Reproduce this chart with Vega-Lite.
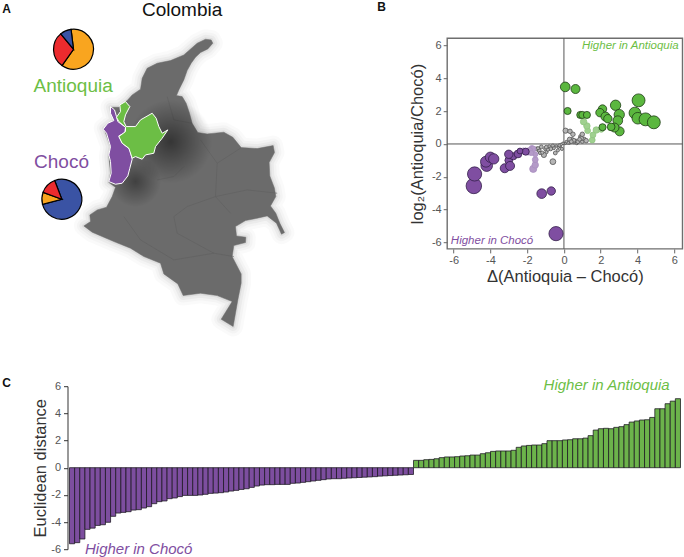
{
"$schema":"https://vega.github.io/schema/vega-lite/v6.json",
"padding":{"left":1.5,"top":0.2,"right":0,"bottom":0},
"background":"white",
"bounds":"flush",
"spacing":348,
"resolve":{"scale":{"color":"independent","fill":"independent","stroke":"independent","size":"independent"}},
"config":{"view":{"stroke":null},"font":"Liberation Sans"},
"datasets":{
"colombia":[{"type":"Feature","properties":{"name":"Colombia"},"geometry":{"type":"Polygon","coordinates":[[[632,120],[637,130],[622,147],[600,158],[585,172],[572,190],[560,212],[550,240],[535,270],[528,287],[545,290],[557,310],[567,340],[575,370],[592,398],[620,402],[670,397],[697,412],[722,443],[770,446],[818,437],[822,458],[806,488],[808,528],[822,565],[826,590],[810,618],[826,640],[838,670],[852,698],[843,703],[828,670],[800,648],[770,655],[735,662],[705,680],[708,708],[736,712],[735,728],[700,737],[695,770],[722,822],[722,850],[712,900],[698,980],[662,958],[695,905],[650,887],[600,880],[548,887],[532,852],[490,822],[480,790],[430,770],[390,745],[340,725],[310,712],[275,697],[250,678],[270,665],[268,645],[290,630],[318,622],[335,590],[345,562],[325,548],[330,520],[325,470],[330,440],[310,385],[340,360],[330,322],[355,322],[380,302],[395,285],[420,268],[425,235],[440,205],[470,190],[510,182],[550,165],[590,130],[615,118],[632,120]]]}}],
"departments":[{"type":"Feature","properties":{"name":"borders"},"geometry":{"type":"MultiLineString","coordinates":[[[650,490],[645,590],[690,640]],[[720,445],[650,490],[600,420]],[[830,580],[740,570],[645,590]],[[520,650],[560,620],[645,590]],[[520,650],[530,700],[640,760],[700,770]],[[370,650],[420,720],[520,780],[640,760]],[[470,540],[520,530],[550,500]],[[500,290],[520,360],[575,370]]]}}],
"provinces":[
{"type":"Feature","properties":{"name":"Chocó"},"geometry":{"type":"Polygon","coordinates":[[[330,320],[342,330],[348,350],[352,365],[375,382],[373,398],[355,408],[365,430],[388,448],[395,478],[388,505],[382,528],[365,550],[345,553],[325,545],[332,520],[330,485],[325,465],[330,440],[318,400],[308,388],[322,370],[340,362],[330,340],[330,320]]]}},
{"type":"Feature","properties":{"name":"Antioquia"},"geometry":{"type":"Polygon","coordinates":[[[375,305],[388,320],[375,345],[370,365],[377,380],[405,380],[420,360],[455,340],[467,355],[475,380],[485,400],[502,390],[485,415],[465,440],[460,460],[435,465],[425,478],[405,470],[395,475],[385,445],[365,430],[355,410],[375,395],[375,382],[355,365],[348,352],[360,335],[358,315],[375,305]]]}}
],
"glow":[{"lon":510,"lat":425,"note":"a"}],
"glow2":[{"lon":405,"lat":545,"note":"b"}],
"labels":[
{"lon":545,"lat":29,"text":"Colombia","kind":"title"},
{"lon":218,"lat":258,"text":"Antioquia","kind":"Antioquia"},
{"lon":183,"lat":487,"text":"Chocó","kind":"Chocó"}
],
"letters":[
{"lon":18,"lat":28,"text":"A"},
{"lon":1143,"lat":22,"text":"B"},
{"lon":18,"lat":1150,"text":"C"}
],
"pies":[
{"region":"Antioquia","lon":219,"lat":148,"ancestry":"European","share":61.7,"rank":1},
{"region":"Antioquia","lon":219,"lat":148,"ancestry":"Native American","share":29.2,"rank":2},
{"region":"Antioquia","lon":219,"lat":148,"ancestry":"African","share":9.1,"rank":3},
{"region":"Chocó","lon":184,"lat":598,"ancestry":"African","share":76.7,"rank":1},
{"region":"Chocó","lon":184,"lat":598,"ancestry":"European","share":9.7,"rank":2},
{"region":"Chocó","lon":184,"lat":598,"ancestry":"Native American","share":13.6,"rank":3}
]
},
"vconcat":[
{"hconcat":[
{"width":340,"height":210.7,
"projection":{"type":"identity","scale":0.3333333,"translate":[-67,-38.3]},
"resolve":{"scale":{"theta":"independent","color":"independent"}},
"layer":[
{"data":{"name":"colombia"},"mark":{"type":"geoshape","clip":false,"fill":null,"stroke":"#000","strokeOpacity":0.018,"strokeWidth":20,"strokeJoin":"round"}},
{"data":{"name":"colombia"},"mark":{"type":"geoshape","clip":false,"fill":null,"stroke":"#000","strokeOpacity":0.025,"strokeWidth":14,"strokeJoin":"round"}},
{"data":{"name":"colombia"},"mark":{"type":"geoshape","clip":false,"fill":null,"stroke":"#000","strokeOpacity":0.035,"strokeWidth":9,"strokeJoin":"round"}},
{"data":{"name":"colombia"},"mark":{"type":"geoshape","clip":false,"fill":null,"stroke":"#000","strokeOpacity":0.05,"strokeWidth":4,"strokeJoin":"round"}},
{"data":{"name":"colombia"},"mark":{"type":"geoshape","clip":false,"fill":"#6b6b6b","stroke":"#6b6b6b","strokeWidth":0.5}},
{"data":{"name":"departments"},"mark":{"type":"geoshape","clip":false,"fill":null,"stroke":"#5f5f5f","strokeWidth":0.6}},
{"data":{"name":"glow"},"mark":{"type":"circle","clip":false,"opacity":1,"size":7000,"fill":{"gradient":"radial","stops":[{"offset":0,"color":"rgba(0,0,0,0.5)"},{"offset":1,"color":"rgba(0,0,0,0)"}]}},"encoding":{"longitude":{"field":"lon","type":"quantitative"},"latitude":{"field":"lat","type":"quantitative"}}},
{"data":{"name":"glow2"},"mark":{"type":"circle","clip":false,"opacity":1,"size":2600,"fill":{"gradient":"radial","stops":[{"offset":0,"color":"rgba(0,0,0,0.4)"},{"offset":1,"color":"rgba(0,0,0,0)"}]}},"encoding":{"longitude":{"field":"lon","type":"quantitative"},"latitude":{"field":"lat","type":"quantitative"}}},
{"data":{"name":"provinces"},"mark":{"type":"geoshape","clip":false,"stroke":"white","strokeWidth":1},"encoding":{"color":{"field":"properties.name","type":"nominal","legend":null,"scale":{"domain":["Antioquia","Chocó"],"range":["#6cbe45","#7f4ea1"]}}}},
{"data":{"name":"pies"},"transform":[{"filter":"datum.region==='Antioquia'"}],"mark":{"type":"arc","clip":false,"outerRadius":20,"stroke":"black","strokeWidth":1.2},"encoding":{"longitude":{"field":"lon","type":"quantitative"},"latitude":{"field":"lat","type":"quantitative"},"theta":{"field":"share","type":"quantitative","scale":{"range":[-0.122,6.161]}},"order":{"field":"rank"},"fill":{"field":"ancestry","type":"nominal","legend":null,"scale":{"domain":["European","Native American","African"],"range":["#f9a51f","#ec2b2e","#3a53a4"]}}}},
{"data":{"name":"pies"},"transform":[{"filter":"datum.region==='Chocó'"}],"mark":{"type":"arc","clip":false,"outerRadius":20,"stroke":"black","strokeWidth":1.2},"encoding":{"longitude":{"field":"lon","type":"quantitative"},"latitude":{"field":"lat","type":"quantitative"},"theta":{"field":"share","type":"quantitative","scale":{"range":[-0.3665,5.9167]}},"order":{"field":"rank"},"fill":{"field":"ancestry","type":"nominal","legend":null,"scale":{"domain":["European","Native American","African"],"range":["#f9a51f","#ec2b2e","#3a53a4"]}}}},
{"data":{"name":"labels"},"mark":{"type":"text","clip":false,"fontSize":19,"align":"center","baseline":"middle"},"encoding":{"longitude":{"field":"lon","type":"quantitative"},"latitude":{"field":"lat","type":"quantitative"},"text":{"field":"text"},"color":{"field":"kind","type":"nominal","legend":null,"scale":{"domain":["title","Antioquia","Chocó"],"range":["#111111","#6cbe45","#7f4ea1"]}}}},
{"data":{"name":"letters"},"mark":{"type":"text","clip":false,"fontSize":12,"fontWeight":"bold","align":"center","baseline":"middle","color":"#111"},"encoding":{"longitude":{"field":"lon","type":"quantitative"},"latitude":{"field":"lat","type":"quantitative"},"text":{"field":"text"}}}
]},
{"width":235.3,"height":210.7,
"data":{"values":[
{"x":-1.0,"y":-0.3,"d":1.5,"g":"ns"},{"x":-0.8,"y":-0.15,"d":1.25,"g":"ns"},{"x":-0.55,"y":-0.25,"d":1.25,"g":"ns"},{"x":-0.3,"y":-0.2,"d":1,"g":"ns"},{"x":-0.2,"y":-0.15,"d":1,"g":"ns"},{"x":-1.35,"y":-0.4,"d":1.5,"g":"ns"},{"x":-1.5,"y":-0.3,"d":1.5,"g":"ns"},{"x":-1.3,"y":-0.55,"d":1.25,"g":"ns"},{"x":-0.95,"y":-0.5,"d":1.25,"g":"ns"},{"x":0.05,"y":0.02,"d":0.9,"g":"ns"},{"x":0.1,"y":0.05,"d":1,"g":"ns"},{"x":0.3,"y":0.05,"d":1,"g":"ns"},{"x":0.55,"y":0.1,"d":1.25,"g":"ns"},{"x":0.65,"y":0.2,"d":1.25,"g":"ns"},{"x":0.7,"y":0.05,"d":1.25,"g":"ns"},{"x":1.0,"y":0.15,"d":1.5,"g":"ns"},{"x":0.9,"y":0.45,"d":1.5,"g":"ns"},{"x":1.1,"y":0.3,"d":1.5,"g":"ns"},{"x":0.45,"y":0.3,"d":1.25,"g":"ns"},
{"x":-0.6,"y":-1.08,"d":2.25,"g":"ns"},{"x":-1.09,"y":-0.67,"d":2,"g":"ns"},{"x":-1.23,"y":-0.18,"d":1.5,"g":"ns"},{"x":-0.96,"y":-0.2,"d":1.5,"g":"ns"},{"x":-0.72,"y":-0.3,"d":1.5,"g":"ns"},{"x":-0.47,"y":-0.55,"d":1.5,"g":"ns"},{"x":-0.33,"y":-0.39,"d":1.25,"g":"ns"},{"x":-0.11,"y":-0.3,"d":1.25,"g":"ns"},{"x":-0.6,"y":-0.1,"d":1.25,"g":"ns"},{"x":-0.24,"y":-0.08,"d":1.25,"g":"ns"},{"x":-0.87,"y":-0.35,"d":1.25,"g":"ns"},{"x":-1.18,"y":-0.53,"d":1.25,"g":"ns"},{"x":-1.41,"y":-0.26,"d":1.25,"g":"ns"},{"x":-0.42,"y":-0.12,"d":1,"g":"ns"},{"x":-0.14,"y":-0.02,"d":1,"g":"ns"},{"x":-0.05,"y":0.04,"d":1,"g":"ns"},
{"x":0.09,"y":0.81,"d":2,"g":"ns"},{"x":0.33,"y":0.77,"d":1.75,"g":"ns"},{"x":0.49,"y":0.59,"d":1.75,"g":"ns"},{"x":0.31,"y":0.28,"d":1.75,"g":"ns"},{"x":0.54,"y":0.22,"d":1.5,"g":"ns"},{"x":0.22,"y":0.08,"d":1.25,"g":"ns"},{"x":0.4,"y":0.14,"d":1.5,"g":"ns"},{"x":0.76,"y":0.14,"d":1.5,"g":"ns"},{"x":0.94,"y":0.35,"d":1.75,"g":"ns"},{"x":1.21,"y":0.2,"d":1.75,"g":"ns"},{"x":1.0,"y":0.59,"d":1.75,"g":"ns"},{"x":0.85,"y":0.28,"d":1.5,"g":"ns"},{"x":0.13,"y":0.14,"d":1,"g":"ns"},
{"x":-2.2,"y":-0.42,"d":2.25,"g":"lowC"},{"x":-1.95,"y":-0.5,"d":2.25,"g":"lowC"},{"x":-1.75,"y":-0.25,"d":2,"g":"lowC"},{"x":-1.67,"y":-1.52,"d":2.75,"g":"lowC"},{"x":-1.56,"y":-1.28,"d":2.5,"g":"lowC"},{"x":-1.56,"y":-0.96,"d":2.25,"g":"lowC"},{"x":-1.68,"y":-0.3,"d":2.25,"g":"lowC"},{"x":-1.87,"y":-0.41,"d":2.5,"g":"lowC"},{"x":-1.56,"y":-0.63,"d":2,"g":"lowC"},{"x":-1.78,"y":-0.55,"d":2,"g":"lowC"},
{"x":1.54,"y":0.24,"d":2.25,"g":"lowA"},{"x":1.58,"y":0.55,"d":2.25,"g":"lowA"},{"x":1.76,"y":0.85,"d":2.5,"g":"lowA"},{"x":1.29,"y":0.81,"d":2.25,"g":"lowA"},{"x":1.25,"y":1.1,"d":2.5,"g":"lowA"},{"x":1.07,"y":1.36,"d":2.5,"g":"lowA"},{"x":2.03,"y":0.89,"d":2.25,"g":"lowA"},
{"x":-4.9,"y":-2.56,"d":6,"g":"Chocó"},{"x":-4.86,"y":-1.83,"d":5.5,"g":"Chocó"},{"x":-4.2,"y":-1.32,"d":4.5,"g":"Chocó"},{"x":-4.24,"y":-1.08,"d":4.25,"g":"Chocó"},{"x":-4.0,"y":-0.81,"d":4,"g":"Chocó"},{"x":-3.82,"y":-0.91,"d":4,"g":"Chocó"},{"x":-3.22,"y":-1.48,"d":3.5,"g":"Chocó"},{"x":-3.0,"y":-1.0,"d":3,"g":"Chocó"},{"x":-2.75,"y":-0.75,"d":2.75,"g":"Chocó"},{"x":-2.93,"y":-1.34,"d":3.5,"g":"Chocó"},{"x":-3.0,"y":-0.63,"d":3.25,"g":"Chocó"},{"x":-2.5,"y":-0.61,"d":3,"g":"Chocó"},{"x":-2.08,"y":-0.47,"d":2.75,"g":"Chocó"},{"x":-2.39,"y":-0.43,"d":2.25,"g":"Chocó"},{"x":-1.21,"y":-3.03,"d":3.75,"g":"Chocó"},{"x":-0.69,"y":-2.87,"d":3.25,"g":"Chocó"},{"x":-0.43,"y":-5.47,"d":5.5,"g":"Chocó"},
{"x":0.07,"y":3.48,"d":3.75,"g":"Antioquia"},{"x":0.63,"y":3.35,"d":3.5,"g":"Antioquia"},{"x":0.2,"y":2.01,"d":2.75,"g":"Antioquia"},{"x":0.89,"y":1.77,"d":2.75,"g":"Antioquia"},{"x":1.0,"y":1.77,"d":2.75,"g":"Antioquia"},{"x":1.25,"y":1.77,"d":2.75,"g":"Antioquia"},{"x":2.1,"y":2.13,"d":3.25,"g":"Antioquia"},{"x":1.96,"y":1.91,"d":3.25,"g":"Antioquia"},{"x":2.26,"y":1.67,"d":3.5,"g":"Antioquia"},{"x":2.39,"y":1.54,"d":3.25,"g":"Antioquia"},{"x":2.81,"y":2.36,"d":4,"g":"Antioquia"},{"x":3.01,"y":1.79,"d":4,"g":"Antioquia"},{"x":2.93,"y":1.42,"d":3.75,"g":"Antioquia"},{"x":3.03,"y":0.77,"d":3.5,"g":"Antioquia"},{"x":2.75,"y":1.0,"d":3.5,"g":"Antioquia"},{"x":2.57,"y":1.04,"d":3,"g":"Antioquia"},{"x":2.1,"y":1.02,"d":2.75,"g":"Antioquia"},{"x":4.06,"y":2.66,"d":5,"g":"Antioquia"},{"x":3.86,"y":1.89,"d":4.5,"g":"Antioquia"},{"x":4.02,"y":1.57,"d":4.5,"g":"Antioquia"},{"x":4.44,"y":1.5,"d":5,"g":"Antioquia"},{"x":4.89,"y":1.32,"d":5,"g":"Antioquia"}
]},
"layer":[
{"mark":{"type":"rect","fill":null,"stroke":"#6e6e6e","strokeWidth":1.4,"clip":false},"data":{"values":[{"a":1}]},"encoding":{}},
{"data":{"values":[{"x0":0}]},"mark":{"type":"rule","color":"#555","strokeWidth":1},"encoding":{"x":{"field":"x0","type":"quantitative"}}},
{"data":{"values":[{"y0":0}]},"mark":{"type":"rule","color":"#555","strokeWidth":1},"encoding":{"y":{"field":"y0","type":"quantitative"}}},
{"mark":{"type":"circle","opacity":1,"strokeWidth":0.8},
"encoding":{
"x":{"field":"x","type":"quantitative","scale":{"domain":[-6.35,6.45],"nice":false,"zero":false},"axis":{"values":[-6,-4,-2,0,2,4,6],"tickCount":7,"labelOverlap":false,"labelExpr":"replace(datum.label,'−','-')","grid":false,"domain":false,"tickColor":"#666","tickSize":4,"labelColor":"#555","labelFontSize":11,"labelPadding":2,"title":"Δ(Antioquia – Chocó)","titleFontSize":16.5,"titleFontWeight":"normal","titleColor":"#333","titlePadding":3}},
"y":{"field":"y","type":"quantitative","scale":{"domain":[-6.4,6.45],"nice":false,"zero":false},"axis":{"values":[-6,-4,-2,0,2,4,6],"tickCount":7,"labelOverlap":false,"labelExpr":"replace(datum.label,'−','-')","grid":false,"domain":false,"tickColor":"#666","tickSize":4,"labelColor":"#555","labelFontSize":11,"labelPadding":2,"title":"log₂(Antioquia/Chocó)","titleFontSize":16.5,"titleFontWeight":"normal","titleColor":"#333","titlePadding":6}},
"size":{"field":"d","type":"quantitative","legend":null,"scale":{"type":"pow","exponent":2,"domain":[0,6],"range":[0,240]}},
"fill":{"field":"g","type":"nominal","legend":null,"scale":{"domain":["ns","lowC","lowA","Chocó","Antioquia"],"range":["#b5b5b5","#b49ac8","#9fd08f","#7f4ea1","#5bb73f"]}},
"stroke":{"field":"g","type":"nominal","legend":null,"scale":{"domain":["ns","lowC","lowA","Chocó","Antioquia"],"range":["#555555","#a98fc0","#8fc57f","#33204a","#1f3d16"]}}
}},
{"data":{"values":[{"x":6.24,"y":6,"t":"Higher in Antioquia"}]},"mark":{"type":"text","align":"right","baseline":"middle","fontStyle":"italic","fontSize":11.5,"color":"#6cbe45"},"encoding":{"x":{"field":"x","type":"quantitative"},"y":{"field":"y","type":"quantitative"},"text":{"field":"t"}}},
{"data":{"values":[{"x":-6.15,"y":-5.9,"t":"Higher in Chocó"}]},"mark":{"type":"text","align":"left","baseline":"middle","fontStyle":"italic","fontSize":11.5,"color":"#7f4ea1"},"encoding":{"x":{"field":"x","type":"quantitative"},"y":{"field":"y","type":"quantitative"},"text":{"field":"t"}}}
]}
],"bounds":"flush","spacing":39.7,"resolve":{"scale":{"color":"independent","fill":"independent","stroke":"independent","size":"independent"}}},
{"width":617,"height":163,
"layer":[
{"data":{"values":[
{"r":1,"v":-5.6},{"r":2,"v":-5.52},{"r":3,"v":-5.25},{"r":4,"v":-4.54},{"r":5,"v":-4.45},{"r":6,"v":-4.25},{"r":7,"v":-4.2},{"r":8,"v":-4.02},{"r":9,"v":-3.58},{"r":10,"v":-3.34},{"r":11,"v":-3.29},{"r":12,"v":-3.24},{"r":13,"v":-3.12},{"r":14,"v":-3.09},{"r":15,"v":-2.97},{"r":16,"v":-2.87},{"r":17,"v":-2.65},{"r":18,"v":-2.5},{"r":19,"v":-2.45},{"r":20,"v":-2.28},{"r":21,"v":-2.23},{"r":22,"v":-2.13},{"r":23,"v":-2.04},{"r":24,"v":-2.04},{"r":25,"v":-2.04},{"r":26,"v":-2.01},{"r":27,"v":-1.96},{"r":28,"v":-1.89},{"r":29,"v":-1.87},{"r":30,"v":-1.84},{"r":31,"v":-1.79},{"r":32,"v":-1.72},{"r":33,"v":-1.67},{"r":34,"v":-1.6},{"r":35,"v":-1.55},{"r":36,"v":-1.45},{"r":37,"v":-1.35},{"r":38,"v":-1.28},{"r":39,"v":-1.25},{"r":40,"v":-1.25},{"r":41,"v":-1.23},{"r":42,"v":-1.23},{"r":43,"v":-1.23},{"r":44,"v":-1.15},{"r":45,"v":-1.13},{"r":46,"v":-1.08},{"r":47,"v":-1.03},{"r":48,"v":-0.98},{"r":49,"v":-0.93},{"r":50,"v":-0.88},{"r":51,"v":-0.83},{"r":52,"v":-0.81},{"r":53,"v":-0.81},{"r":54,"v":-0.78},{"r":55,"v":-0.76},{"r":56,"v":-0.74},{"r":57,"v":-0.72},{"r":58,"v":-0.7},{"r":59,"v":-0.68},{"r":60,"v":-0.66},{"r":61,"v":-0.62},{"r":62,"v":-0.6},{"r":63,"v":-0.58},{"r":64,"v":-0.56},{"r":65,"v":-0.54},{"r":66,"v":-0.52},{"r":67,"v":-0.5},
{"r":68,"v":0.54},{"r":69,"v":0.54},{"r":70,"v":0.59},{"r":71,"v":0.61},{"r":72,"v":0.66},{"r":73,"v":0.74},{"r":74,"v":0.79},{"r":75,"v":0.79},{"r":76,"v":0.81},{"r":77,"v":0.86},{"r":78,"v":0.88},{"r":79,"v":0.93},{"r":80,"v":0.93},{"r":81,"v":1.03},{"r":82,"v":1.1},{"r":83,"v":1.2},{"r":84,"v":1.23},{"r":85,"v":1.23},{"r":86,"v":1.23},{"r":87,"v":1.28},{"r":88,"v":1.5},{"r":89,"v":1.6},{"r":90,"v":1.64},{"r":91,"v":1.67},{"r":92,"v":1.67},{"r":93,"v":1.77},{"r":94,"v":1.99},{"r":95,"v":1.99},{"r":96,"v":1.99},{"r":97,"v":2.04},{"r":98,"v":2.06},{"r":99,"v":2.13},{"r":100,"v":2.13},{"r":101,"v":2.18},{"r":102,"v":2.36},{"r":103,"v":2.77},{"r":104,"v":2.87},{"r":105,"v":2.9},{"r":106,"v":2.87},{"r":107,"v":2.97},{"r":108,"v":3.02},{"r":109,"v":3.17},{"r":110,"v":3.36},{"r":111,"v":3.44},{"r":112,"v":3.51},{"r":113,"v":3.53},{"r":114,"v":3.7},{"r":115,"v":4.34},{"r":116,"v":4.34},{"r":117,"v":4.71},{"r":118,"v":4.9},{"r":119,"v":5.08}
]},
"mark":{"type":"bar","stroke":"#1a1620","strokeWidth":0.9,"strokeOpacity":0.85},
"encoding":{
"x":{"field":"r","type":"ordinal","axis":null,"scale":{"paddingInner":0,"paddingOuter":0,"range":[2,613]}},
"y":{"field":"v","type":"quantitative","scale":{"domain":[-6,6],"nice":false},"axis":{"values":[-6,-4,-2,0,2,4,6],"tickCount":7,"labelOverlap":false,"labelExpr":"replace(datum.label,'−','-')","grid":false,"domain":true,"domainColor":"#333","tickColor":"#333","tickSize":4,"labelColor":"#555","labelFontSize":11,"labelPadding":3,"title":"Euclidean distance","titleFontSize":16.5,"titleFontWeight":"normal","titleColor":"#333","titlePadding":2}},
"fill":{"condition":{"test":"datum.v<0","value":"#7d4e9f"},"value":"#6cb34b"}
}},
{"data":{"values":[{"r":4,"v":-5.95,"t":"Higher in Chocó"}]},"mark":{"type":"text","align":"left","baseline":"middle","fontStyle":"italic","fontSize":15,"color":"#7f4ea1","dx":-2.5},"encoding":{"x":{"field":"r","type":"ordinal"},"y":{"field":"v","type":"quantitative"},"text":{"field":"t"}}},
{"data":{"values":[{"r":117,"v":6.1,"t":"Higher in Antioquia"}]},"mark":{"type":"text","align":"right","baseline":"middle","fontStyle":"italic","fontSize":15,"color":"#6cbe45","dx":2},"encoding":{"x":{"field":"r","type":"ordinal"},"y":{"field":"v","type":"quantitative"},"text":{"field":"t"}}}
]}
]}
